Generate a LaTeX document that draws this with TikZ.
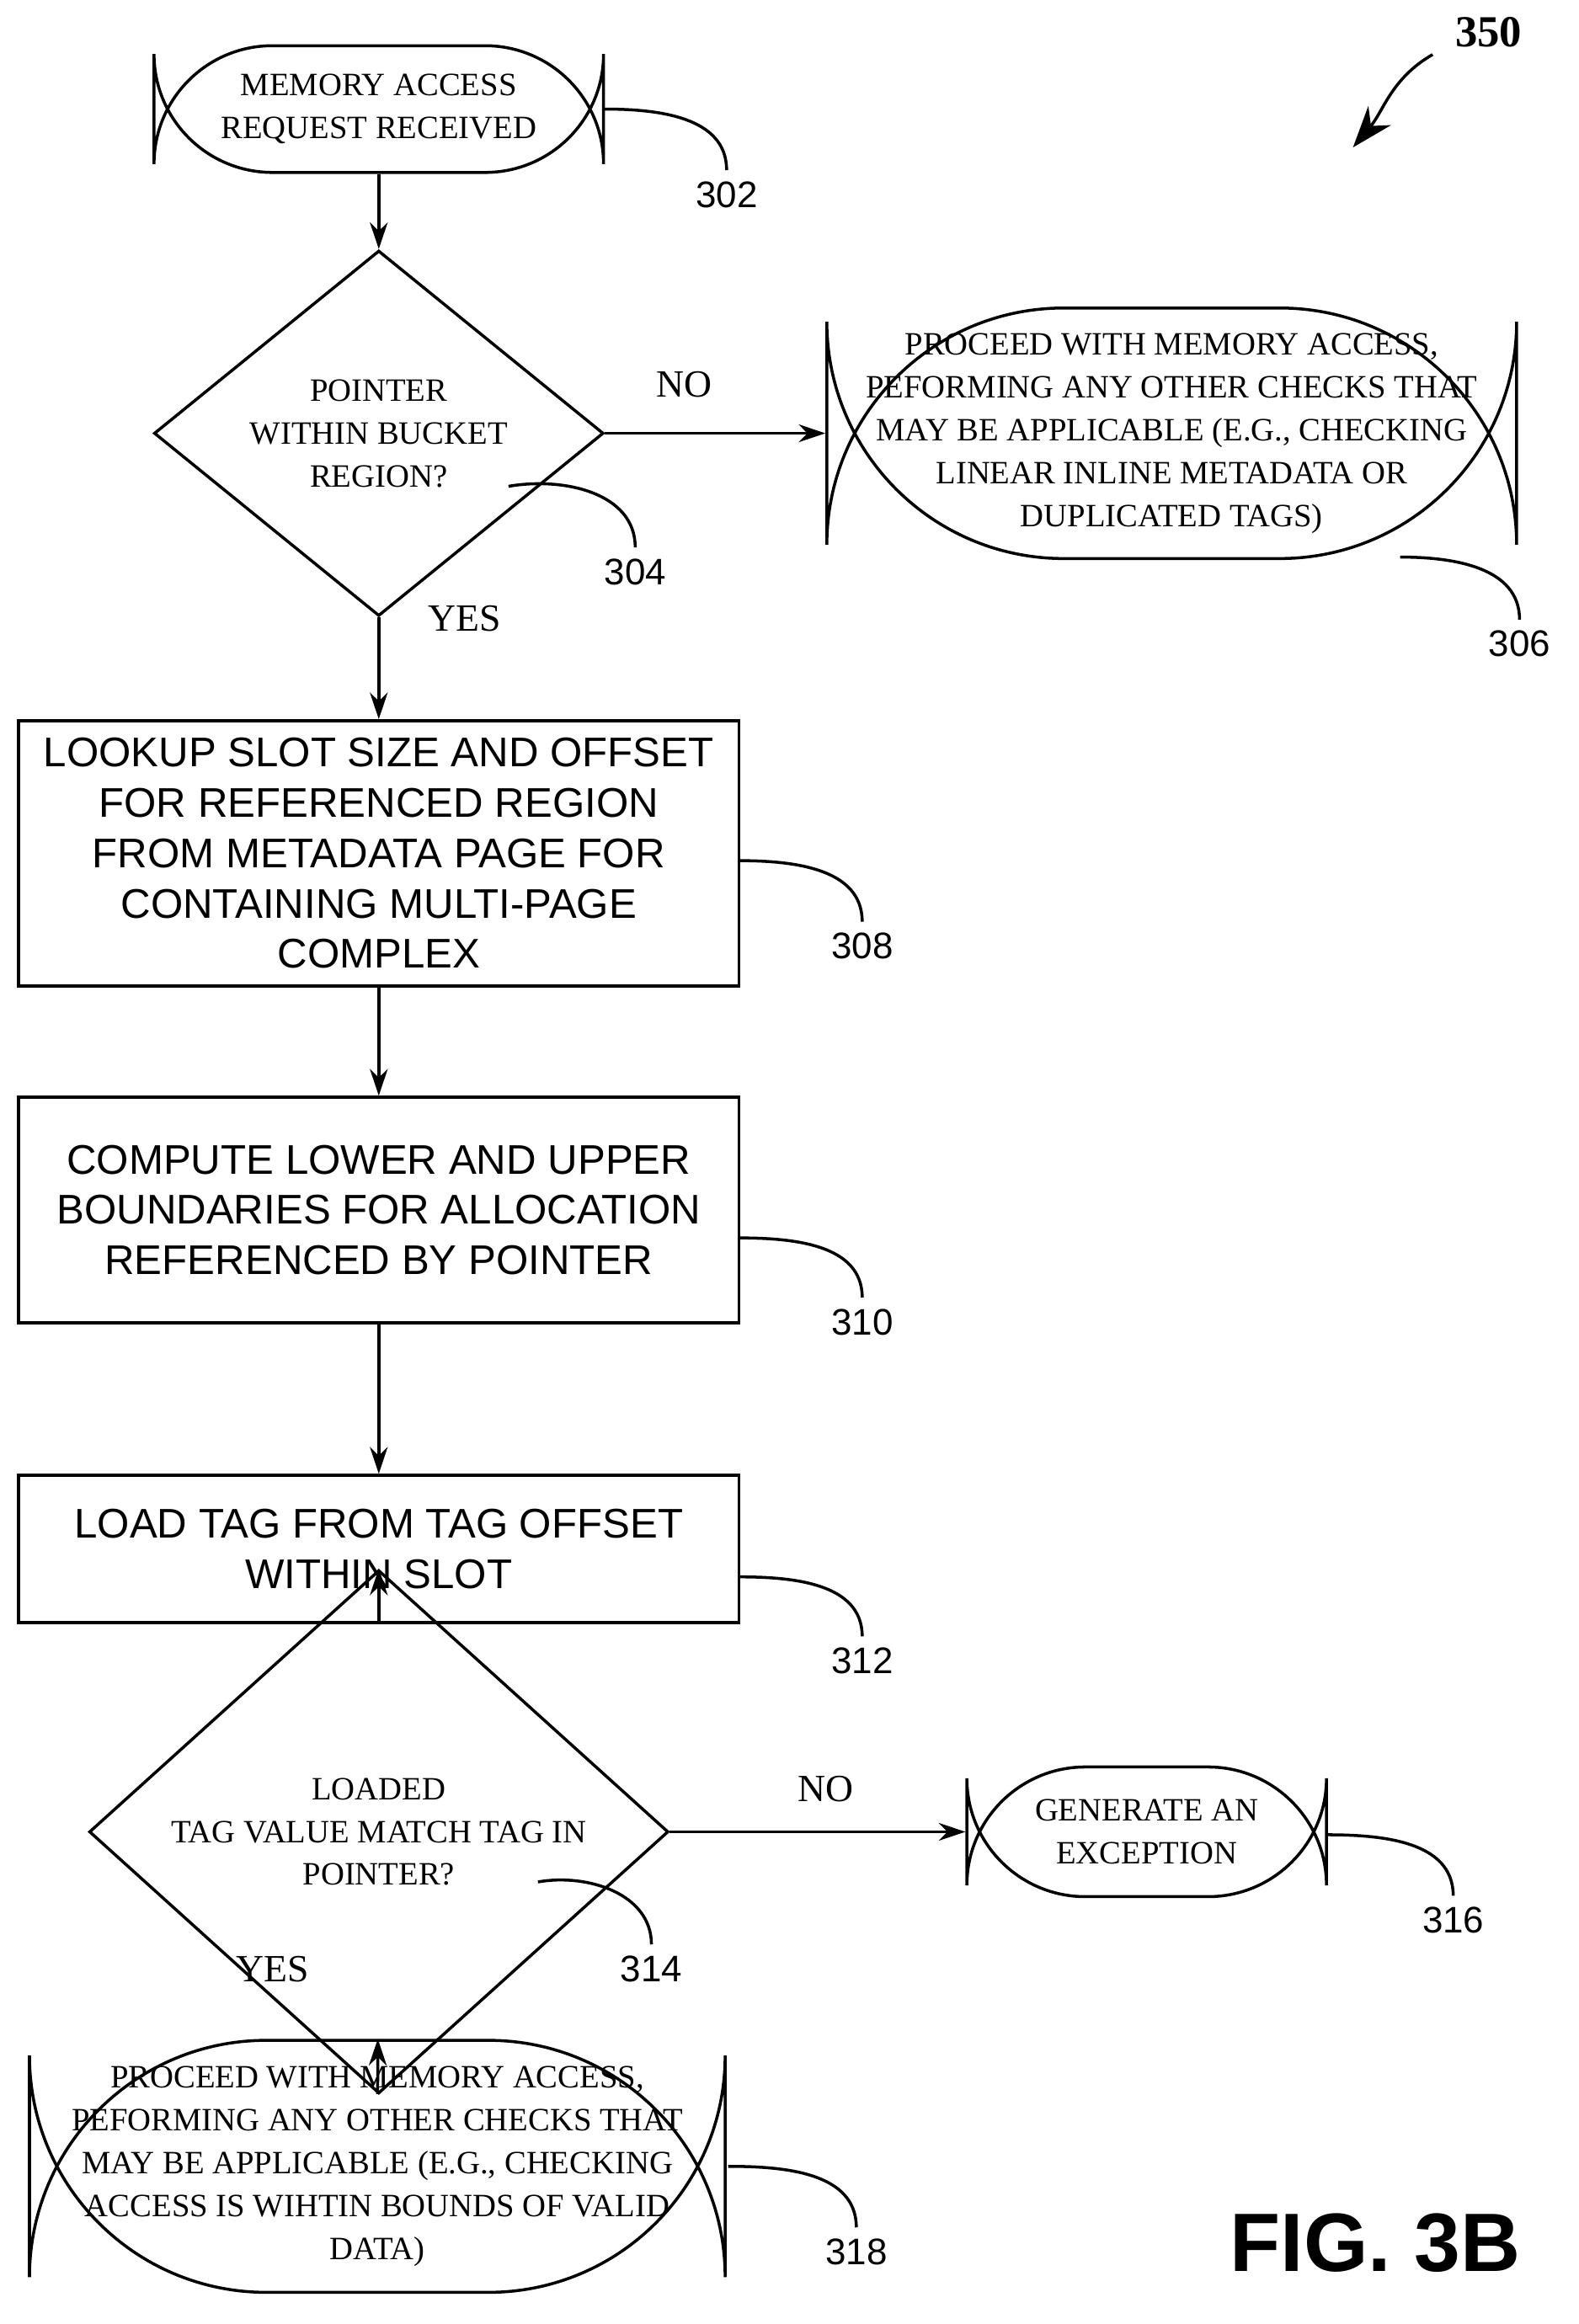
\documentclass[tikz,border=0pt]{standalone}
\usepackage{fontspec}
\setmainfont{Liberation Serif}
\setsansfont{Liberation Sans}
\usetikzlibrary{shapes.geometric}
\usetikzlibrary{arrows.meta}

\begin{document}
\begin{tikzpicture}[x=0.0175cm, y=-0.0175cm, line width=1pt]

\tikzset{
    terminal/.style = {draw, rounded corners=40pt, align=center, font=\fontsize{11}{14.5}\selectfont},
    decision/.style = {draw, diamond, inner sep=0pt, align=center, font=\fontsize{11}{14.5}\selectfont},
    process/.style = {draw, minimum width=489*0.0175cm, align=center, font=\sffamily\fontsize{14}{17}\selectfont},
    refnum/.style = {font=\sffamily\fontsize{12.5}{14}\selectfont},
    flow/.style = {-{Stealth[length=9pt,width=6pt]}}
}

\useasboundingbox (0,0) rectangle (1071,1577);

\node (start) [terminal, minimum width=305*0.0175cm, minimum height=86*0.0175cm] at (257,74) {MEMORY ACCESS\\REQUEST RECEIVED};
\node (inbucket) [decision, minimum width=305*0.0175cm, minimum height=170*0.0175cm] at (257,294) {POINTER\\WITHIN BUCKET\\REGION?};
\node (proceedA) [terminal, rounded corners=80pt, minimum width=468*0.0175cm, minimum height=170*0.0175cm] at (795,294) {PROCEED WITH MEMORY ACCESS,\\PEFORMING ANY OTHER CHECKS THAT\\MAY BE APPLICABLE (E.G., CHECKING\\LINEAR INLINE METADATA OR\\DUPLICATED TAGS)};
\node (lookup) [process, minimum height=180*0.0175cm] at (257,579) {LOOKUP SLOT SIZE AND OFFSET\\FOR REFERENCED REGION\\FROM METADATA PAGE FOR\\CONTAINING MULTI-PAGE\\COMPLEX};
\node (bounds) [process, minimum height=153*0.0175cm] at (257,821) {COMPUTE LOWER AND UPPER\\BOUNDARIES FOR ALLOCATION\\REFERENCED BY POINTER};
\node (loadtag) [process, minimum height=100*0.0175cm] at (257,1051) {LOAD TAG FROM TAG OFFSET\\WITHIN SLOT};
\node (tagmatch) [decision, minimum width=393*0.0175cm, minimum height=154*0.0175cm] at (257,1243) {LOADED\\TAG VALUE MATCH TAG IN\\POINTER?};
\node (except) [terminal, minimum width=244*0.0175cm, minimum height=88*0.0175cm] at (778,1243) {GENERATE AN\\EXCEPTION};
\node (proceedB) [terminal, rounded corners=80pt, minimum width=472*0.0175cm, minimum height=171*0.0175cm] at (256,1470) {PROCEED WITH MEMORY ACCESS,\\PEFORMING ANY OTHER CHECKS THAT\\MAY BE APPLICABLE (E.G., CHECKING\\ACCESS IS WIHTIN BOUNDS OF VALID\\DATA)};

% flow
\draw [flow] (start) -- (inbucket);
\draw [flow] (inbucket) -- (proceedA);
\draw [flow] (inbucket) -- (lookup);
\draw [flow] (lookup) -- (bounds);
\draw [flow] (bounds) -- (loadtag);
\draw [flow] (loadtag) -- (tagmatch);
\draw [flow] (tagmatch) -- (except);
\draw [flow] (tagmatch) -- (proceedB);

\node (no1) [font=\fontsize{13}{15}\selectfont] at (464,261) {NO};
\node (yes1) [font=\fontsize{13}{15}\selectfont] at (315,420) {YES};
\node (no2) [font=\fontsize{13}{15}\selectfont] at (560,1214) {NO};
\node (yes2) [font=\fontsize{13}{15}\selectfont] at (185,1336) {YES};

% reference numbers
\node (n302) [refnum] at (493,132) {302};
\node (n304) [refnum] at (431,388) {304};
\node (n306) [refnum] at (1031,437) {306};
\node (n308) [refnum] at (585,642) {308};
\node (n310) [refnum] at (585,897) {310};
\node (n312) [refnum] at (585,1127) {312};
\node (n314) [refnum] at (442,1336) {314};
\node (n316) [refnum] at (986,1303) {316};
\node (n318) [refnum] at (581,1528) {318};

\draw (410,74) to[out=0,in=90] (n302.north);
\draw (345,330) to[out=10,in=90] (n304.north);
\draw (950,378) to[out=0,in=90] (n306.north);
\draw (501,584) to[out=0,in=90] (n308.north);
\draw (501,840) to[out=0,in=90] (n310.north);
\draw (501,1070) to[out=0,in=90] (n312.north);
\draw (365,1277) to[out=10,in=90] (n314.north);
\draw (900,1245) to[out=0,in=90] (n316.north);
\draw (494,1470) to[out=0,in=90] (n318.north);

\node (fig) [font=\bfseries\fontsize{15}{18}\selectfont] at (1010,22) {350};
\coordinate (figtip) at (918,100);
\draw [-{Stealth[length=14pt,width=10pt]}] (972,37) to[out=-150,in=50] (figtip);

\node (caption) [font=\sffamily\bfseries\fontsize{28}{32}\selectfont] at (933,1522) {FIG. 3B};

\end{tikzpicture}
\end{document}
